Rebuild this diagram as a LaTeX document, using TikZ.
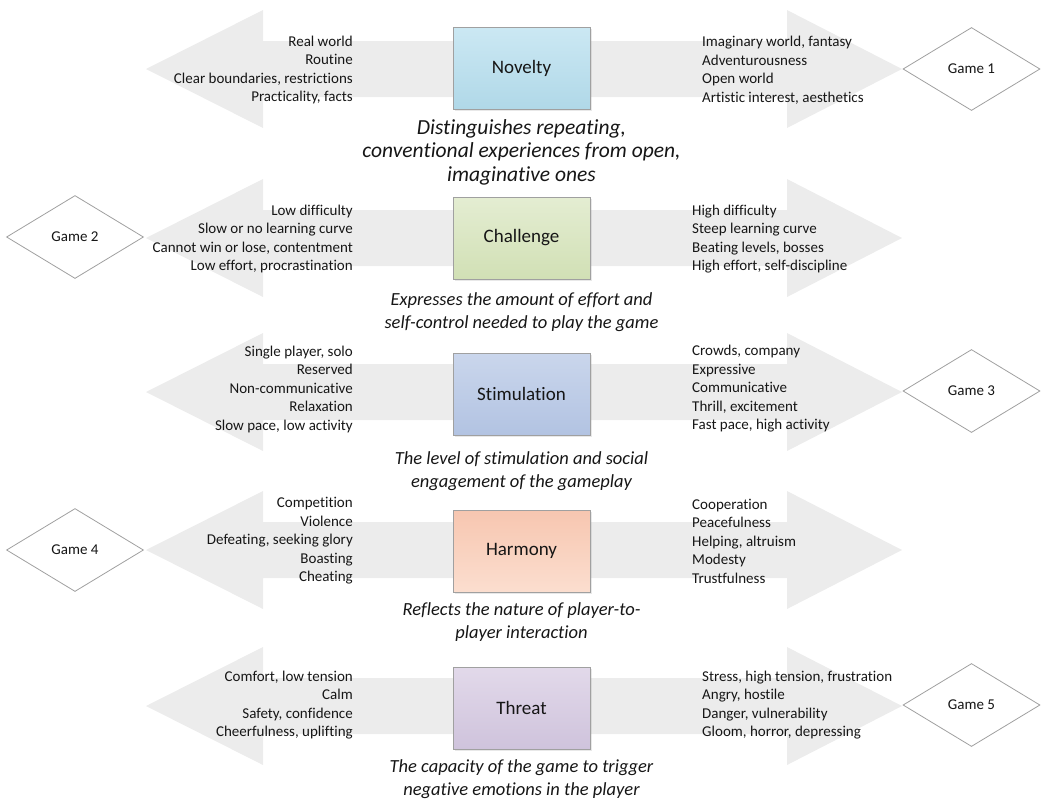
\documentclass[tikz,border=0pt]{standalone}
\usepackage{fontspec}
\setmainfont{Carlito}[Ligatures=NoCommon]
\usetikzlibrary{shapes.geometric,shadows}

\definecolor{band}{RGB}{236,236,236}
\definecolor{boxline}{RGB}{160,160,160}
\definecolor{ink}{RGB}{22,22,22}
\definecolor{novTop}{RGB}{203,232,243}
\definecolor{novBot}{RGB}{176,216,232}
\definecolor{chaTop}{RGB}{228,237,210}
\definecolor{chaBot}{RGB}{209,224,181}
\definecolor{stiTop}{RGB}{202,214,236}
\definecolor{stiBot}{RGB}{178,195,226}
\definecolor{harTop}{RGB}{247,198,176}
\definecolor{harBot}{RGB}{251,222,207}
\definecolor{thrTop}{RGB}{226,217,234}
\definecolor{thrBot}{RGB}{207,195,220}

% wide grey double-headed band behind each dimension box
\newcommand\bandarrow[1]{%
  \fill[band] (146,#1) -- (263,{#1-59}) -- (263,{#1-28}) -- (787,{#1-28})
    -- (787,{#1-59}) -- (902,#1) -- (787,{#1+59}) -- (787,{#1+28})
    -- (263,{#1+28}) -- (263,{#1+59}) -- cycle;}

\begin{document}
\begin{tikzpicture}[x=1pt,y=-1pt,
  dimbox/.style={draw=boxline, line width=0.8pt, minimum width=137pt,
    minimum height=82pt, inner sep=0pt, text=ink,
    font=\fontsize{19}{22}\selectfont,
    drop shadow={shadow xshift=1.5pt, shadow yshift=-1.5pt, opacity=0.18}},
  game/.style={diamond, aspect=1.65, draw=boxline, line width=0.8pt,
    fill=white, minimum width=137pt, minimum height=83pt, inner sep=0pt,
    text=ink, font=\fontsize{15}{18}\selectfont},
  leftlist/.style={anchor=east, align=right, inner sep=0pt, text=ink,
    font=\fontsize{15}{18.5}\selectfont},
  rightlist/.style={anchor=west, align=left, inner sep=0pt, text=ink,
    font=\fontsize{15}{18.5}\selectfont},
  note/.style={anchor=north, align=center, inner sep=0pt, text=ink,
    font=\fontsize{18.5}{23.5}\selectfont\itshape}]
\useasboundingbox (0,0) rectangle (1041,804);

% bands
\bandarrow{69}
\bandarrow{238}
\bandarrow{392}
\bandarrow{550}
\bandarrow{706}

% dimension boxes
\node[dimbox, top color=novTop, bottom color=novBot] (novelty) at (521.5,68.5) {Novelty};
\node[dimbox, top color=chaTop, bottom color=chaBot] (challenge) at (521.5,238) {Challenge};
\node[dimbox, top color=stiTop, bottom color=stiBot] (stimulation) at (521.5,394) {Stimulation};
\node[dimbox, top color=harTop, bottom color=harBot] (harmony) at (521.5,551) {Harmony};
\node[dimbox, top color=thrTop, bottom color=thrBot] (threat) at (521.5,708) {Threat};

% games
\node[game] (g1) at (971.5,69) {Game 1};
\node[game] (g2) at (75,237) {Game 2};
\node[game] (g3) at (971.5,391) {Game 3};
\node[game] (g4) at (75,550) {Game 4};
\node[game] (g5) at (971.5,705) {Game 5};

% pole descriptions
\node[leftlist] (nl) at (353,70) {Real world\\Routine\\Clear boundaries, restrictions\\Practicality, facts};
\node[rightlist] (nr) at (702,70) {Imaginary world, fantasy\\Adventurousness\\Open world\\Artistic interest, aesthetics};

\node[leftlist] (cl) at (353,239) {Low difficulty\\Slow or no learning curve\\Cannot win or lose, contentment\\Low effort, procrastination};
\node[rightlist] (cr) at (692,239) {High difficulty\\Steep learning curve\\Beating levels, bosses\\High effort, self-discipline};

\node[leftlist] (sl) at (353,389) {Single player, solo\\Reserved\\Non-communicative\\Relaxation\\Slow pace, low activity};
\node[rightlist] (sr) at (692,389) {Crowds, company\\Expressive\\Communicative\\Thrill, excitement\\Fast pace, high activity};

\node[leftlist] (hl) at (353,541) {Competition\\Violence\\Defeating, seeking glory\\Boasting\\Cheating};
\node[rightlist] (hr) at (692,541) {Cooperation\\Peacefulness\\Helping, altruism\\Modesty\\Trustfulness};

\node[leftlist] (tl) at (353,705) {Comfort, low tension\\Calm\\Safety, confidence\\Cheerfulness, uplifting};
\node[rightlist] (tr) at (702,705) {Stress, high tension, frustration\\Angry, hostile\\Danger, vulnerability\\Gloom, horror, depressing};

% dimension definitions
\node[note, font=\fontsize{21.5}{23.5}\selectfont\itshape] (nd) at (521.5,119) {Distinguishes repeating,\\conventional experiences from open,\\imaginative ones};
\node[note] (cd) at (521.5,292) {Expresses the amount of effort and\\self-control needed to play the game};
\node[note] (sd) at (521.5,451) {The level of stimulation and social\\engagement of the gameplay};
\node[note] (hd) at (521.5,602) {Reflects the nature of player-to-\\player interaction};
\node[note] (td) at (521.5,759) {The capacity of the game to trigger\\negative emotions in the player};
\end{tikzpicture}
\end{document}
